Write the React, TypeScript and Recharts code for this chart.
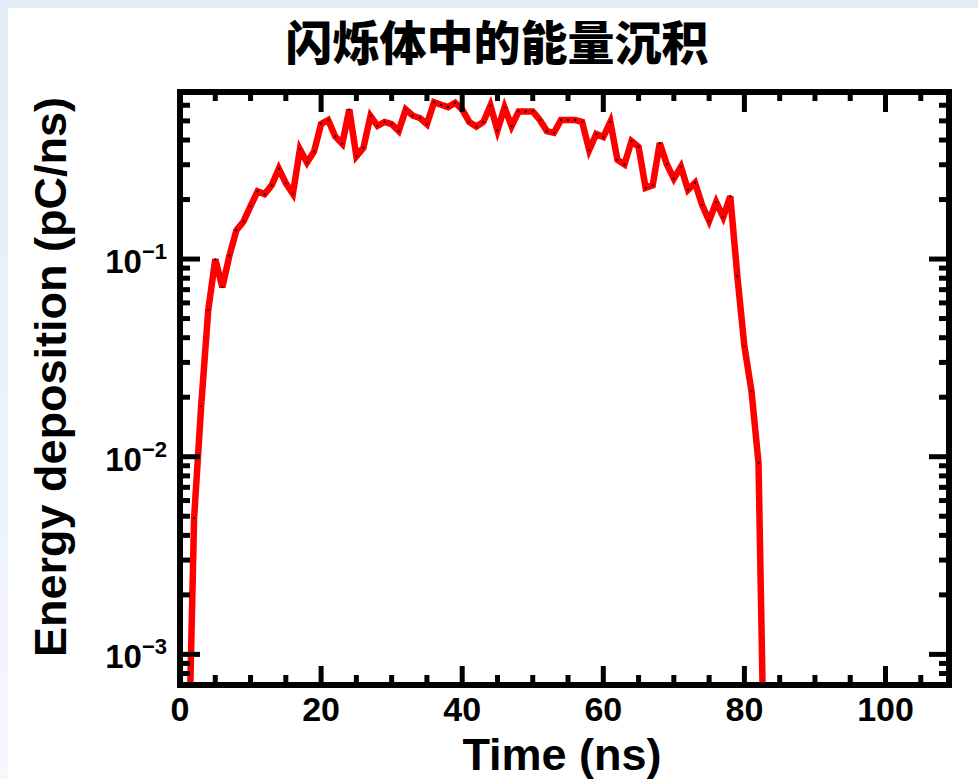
import { LineChart, Line, XAxis, YAxis } from 'recharts'

// energy deposition per ns
const timeNs = [
  1, 2, 3, 4, 5, 6, 7, 8, 9, 10, 11, 12, 13, 14, 15, 16, 17, 18, 19, 20,
  21, 22, 23, 24, 25, 26, 27, 28, 29, 30, 31, 32, 33, 34, 35, 36, 37, 38, 39, 40,
  41, 42, 43, 44, 45, 46, 47, 48, 49, 50, 51, 52, 53, 54, 55, 56, 57, 58, 59, 60,
  61, 62, 63, 64, 65, 66, 67, 68, 69, 70, 71, 72, 73, 74, 75, 76, 77, 78, 79, 80,
  81, 82, 83
]
const energy = [
  0.00013, 0.0049, 0.018, 0.055, 0.0997, 0.072, 0.104, 0.14, 0.155, 0.185,
  0.22, 0.213, 0.236, 0.287, 0.242, 0.214, 0.359, 0.308, 0.35, 0.483,
  0.505, 0.417, 0.383, 0.571, 0.331, 0.366, 0.529, 0.472, 0.494, 0.481,
  0.444, 0.571, 0.531, 0.517, 0.481, 0.622, 0.603, 0.587, 0.617, 0.571,
  0.494, 0.468, 0.494, 0.598, 0.447, 0.585, 0.47, 0.558, 0.558, 0.558,
  0.505, 0.444, 0.435, 0.505, 0.505, 0.505, 0.494, 0.356, 0.429, 0.414,
  0.494, 0.318, 0.301, 0.395, 0.369, 0.229, 0.236, 0.386, 0.302, 0.255,
  0.293, 0.224, 0.243, 0.188, 0.156, 0.194, 0.163, 0.208, 0.0818, 0.0362,
  0.0215, 0.0093, 0.0001
]

const xTicks = [0, 5, 10, 15, 20, 25, 30, 35, 40, 45, 50, 55, 60, 65, 70, 75, 80, 85, 90, 95, 100, 105]
const xMajor = [0, 20, 40, 60, 80, 100]
const yTicks = [
  0.0008, 0.0009, 0.001, 0.002, 0.003, 0.004, 0.005, 0.006, 0.007, 0.008, 0.009,
  0.01, 0.02, 0.03, 0.04, 0.05, 0.06, 0.07, 0.08, 0.09,
  0.1, 0.2, 0.3, 0.4, 0.5, 0.6
]
const yMajor = [0.001, 0.01, 0.1]

const title = '闪烁体中的能量沉积'
const xTitle = 'Time (ns)'
const yTitle = 'Energy deposition (pC/ns)'

const data = timeNs.map((t, i) => ({ t, energy: energy[i] }))

const sans = '"Liberation Sans", Arial, Helvetica, sans-serif'
const frame = { stroke: '#000', strokeWidth: 6, strokeLinecap: 'square' as const }

const BottomTick = (props: any) => {
  const { x, y, payload } = props
  const major = xMajor.includes(payload.value)
  return (
    <g>
      <line x1={x} y1={y} x2={x} y2={y - (major ? 19 : 10)} stroke="#000" strokeWidth={5} />
      {major && (
        <text x={x} y={y + 36} textAnchor="middle" fontFamily={sans} fontWeight={700} fontSize={34} fill="#000">
          {payload.value}
        </text>
      )}
    </g>
  )
}

const TopTick = (props: any) => {
  const { x, y, payload } = props
  const major = xMajor.includes(payload.value)
  return <line x1={x} y1={y} x2={x} y2={y + (major ? 20 : 9)} stroke="#000" strokeWidth={5} />
}

const LeftTick = (props: any) => {
  const { x, y, payload } = props
  const major = yMajor.includes(payload.value)
  const exp = Math.round(Math.log10(payload.value))
  return (
    <g>
      <line x1={x} y1={y} x2={x + (major ? 20 : 10)} y2={y} stroke="#000" strokeWidth={5} />
      {major && (
        <text x={x - 13} y={y + 14} textAnchor="end" fontFamily={sans} fontWeight={700} fontSize={33} fill="#000">
          10
          <tspan dy={-14} fontSize={22}>{'\u2212' + -exp}</tspan>
        </text>
      )}
    </g>
  )
}

const RightTick = (props: any) => {
  const { x, y, payload } = props
  const major = yMajor.includes(payload.value)
  return <line x1={x} y1={y} x2={x - (major ? 20 : 10)} y2={y} stroke="#000" strokeWidth={5} />
}

export default function App() {
  return (
    <div
      style={{
        position: 'absolute',
        left: 0,
        top: 0,
        width: 978,
        height: 779,
        overflow: 'hidden',
        background: 'linear-gradient(#e2ebf6, #f5f8fc)'
      }}
    >
      <div style={{ position: 'absolute', left: 8, top: 8, right: 0, bottom: 0, background: '#fff' }} />
      <div
        style={{
          position: 'absolute',
          left: 8,
          top: 16,
          width: 978,
          textAlign: 'center',
          fontFamily: '"Noto Sans CJK SC", sans-serif',
          fontWeight: 900,
          fontSize: 47,
          lineHeight: '47px',
          color: '#000'
        }}
      >
        {title}
      </div>
      <div style={{ position: 'absolute', left: 0, top: 0 }}>
        <LineChart width={978} height={779} data={data} margin={{ top: 82, right: 19, bottom: 44, left: 100 }}>
          <XAxis
            dataKey="t"
            type="number"
            domain={[0, 109]}
            allowDataOverflow
            ticks={xTicks}
            interval={0}
            height={50}
            tickSize={0}
            tickMargin={0}
            tickLine={false}
            axisLine={frame}
            tick={<BottomTick />}
          />
          <XAxis
            xAxisId="top"
            orientation="top"
            dataKey="t"
            type="number"
            domain={[0, 109]}
            allowDataOverflow
            ticks={xTicks}
            interval={0}
            height={10}
            tickSize={0}
            tickMargin={0}
            tickLine={false}
            axisLine={frame}
            tick={<TopTick />}
          />
          <YAxis
            type="number"
            scale="log"
            domain={[0.0007, 0.7]}
            allowDataOverflow
            ticks={yTicks}
            interval={0}
            width={80}
            tickSize={0}
            tickMargin={0}
            tickLine={false}
            axisLine={frame}
            tick={<LeftTick />}
          />
          <YAxis
            yAxisId="right"
            orientation="right"
            type="number"
            scale="log"
            domain={[0.0007, 0.7]}
            allowDataOverflow
            ticks={yTicks}
            interval={0}
            width={10}
            tickSize={0}
            tickMargin={0}
            tickLine={false}
            axisLine={frame}
            tick={<RightTick />}
          />
          <Line
            xAxisId="top"
            yAxisId="right"
            dataKey="energy"
            stroke="none"
            dot={false}
            isAnimationActive={false}
          />
          <Line
            type="linear"
            dataKey="energy"
            stroke="#ff0000"
            strokeWidth={6.5}
            dot={{ r: 1.1, fill: '#000', stroke: 'none', strokeWidth: 0 }}
            isAnimationActive={false}
          />
        </LineChart>
      </div>
      <div
        style={{
          position: 'absolute',
          left: 362,
          top: 730,
          width: 400,
          textAlign: 'center',
          fontFamily: sans,
          fontWeight: 700,
          fontSize: 45,
          lineHeight: '50px',
          color: '#000'
        }}
      >
        {xTitle}
      </div>
      <div
        style={{
          position: 'absolute',
          left: 51 - 320,
          top: 377 - 25,
          width: 640,
          height: 50,
          textAlign: 'center',
          fontFamily: sans,
          fontWeight: 700,
          fontSize: 45,
          lineHeight: '50px',
          color: '#000',
          transform: 'rotate(-90deg)',
          whiteSpace: 'nowrap'
        }}
      >
        {yTitle}
      </div>
    </div>
  )
}
